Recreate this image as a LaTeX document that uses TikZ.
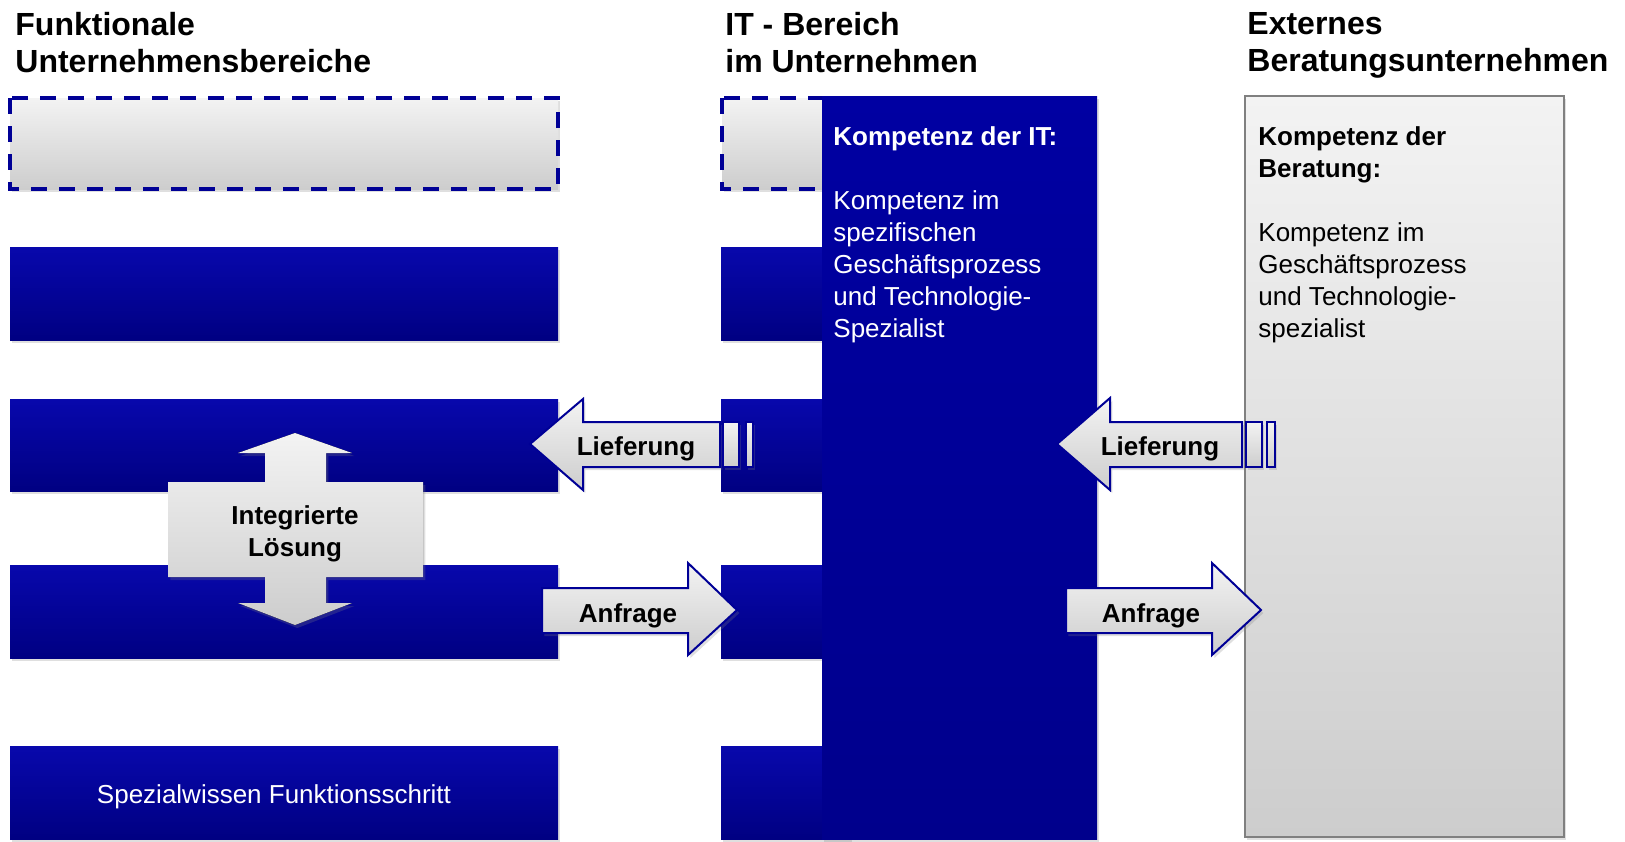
\documentclass[tikz,border=0pt]{standalone}
\usepackage{fontspec}
\setmainfont{Liberation Sans}
\usetikzlibrary{shadows}

\definecolor{bartop}{RGB}{8,8,172}
\definecolor{barbot}{RGB}{0,0,130}
\definecolor{ittop}{RGB}{0,0,162}
\definecolor{itbot}{RGB}{0,0,140}
\definecolor{edgeblue}{RGB}{0,0,150}
\definecolor{graytop}{RGB}{243,243,243}
\definecolor{graybot}{RGB}{205,205,205}
\definecolor{edgegray}{RGB}{128,128,128}

\tikzset{
  softshadow/.style={drop shadow={opacity=.25,shadow xshift=1.2pt,shadow yshift=-1.5pt}},
  bluebar/.style={top color=bartop,bottom color=barbot,softshadow},
  itbox/.style={top color=ittop,bottom color=itbot,softshadow},
  dashbox/.style={top color=graytop,bottom color=graybot,draw=edgeblue,line width=2pt,dash pattern=on 8pt off 6pt,softshadow},
  beratbox/.style={top color=graytop,bottom color=graybot,draw=edgegray,line width=1pt,softshadow},
  grayarrow/.style={top color=graytop,bottom color=graybot,draw=edgeblue,line width=1pt,softshadow},
  crossarrow/.style={top color=graytop,bottom color=graybot,softshadow},
  headtext/.style={font=\fontsize{16}{18.5}\selectfont\bfseries,align=left,anchor=north west,inner sep=0pt},
  bodytext/.style={font=\fontsize{13}{16}\selectfont,align=left,anchor=north west,inner sep=0pt},
  labeltext/.style={font=\fontsize{13}{16}\selectfont\bfseries,align=center,inner sep=0pt}
}

\begin{document}
\begin{tikzpicture}[x=0.5pt,y=-0.5pt]
\useasboundingbox (0,0) rectangle (1625,841);
%\draw[help lines,step=50] (0,0) grid (1625,841);
\node[headtext] (funktitel) at (15,12) {Funktionale\\Unternehmensbereiche};
\node[headtext] (ittitel) at (725,12) {IT - Bereich\\im Unternehmen};
\node[headtext] (exttitel) at (1247,12) {Externes\\Beratungsunternehmen};
% linke Spalte
\draw[dashbox] (10,98) rectangle (558,189);
\fill[bluebar] (10,247) rectangle (558,340);
\fill[bluebar] (10,399) rectangle (558,491);
\fill[bluebar] (10,565) rectangle (558,658);
\fill[bluebar] (10,746) rectangle (558,839);
\node[bodytext,anchor=center,white] (spezial) at (274,797) {Spezialwissen Funktionsschritt};
% IT-Bereich
\draw[dashbox] (722,98) rectangle (850,189);
\fill[bluebar] (721,247) rectangle (850,340);
\fill[bluebar] (721,399) rectangle (850,491);
\fill[bluebar] (721,565) rectangle (850,658);
\fill[bluebar] (721,746) rectangle (850,839);
\fill[itbox] (822,96) rectangle (1097,839);
\node[bodytext,white] (itkomp) at (833,126) {\textbf{Kompetenz der IT:}\\[16pt]Kompetenz im\\spezifischen\\Geschäftsprozess\\und Technologie-\\Spezialist};
% Beratung
\draw[beratbox] (1245,96) rectangle (1564,837);
\node[bodytext] (beratkomp) at (1258,126) {\textbf{Kompetenz der}\\\textbf{Beratung:}\\[16pt]Kompetenz im\\Geschäftsprozess\\und Technologie-\\spezialist};
% Pfeile
\draw[grayarrow] (530,444) -- (583,399) -- (583,422) -- (720,422) -- (720,467) -- (583,467) -- (583,490) -- cycle;
\draw[grayarrow] (723,422) rectangle (739,467);
\draw[grayarrow] (746,422) rectangle (753,467);
\node[labeltext] (liefer1) at (636,449) {Lieferung};
\draw[grayarrow] (1057,444) -- (1110,398) -- (1110,422) -- (1242,422) -- (1242,467) -- (1110,467) -- (1110,490) -- cycle;
\draw[grayarrow] (1246,422) rectangle (1262,467);
\draw[grayarrow] (1267,422) rectangle (1275,467);
\node[labeltext] (liefer2) at (1160,449) {Lieferung};
\draw[grayarrow] (542,588) -- (688,588) -- (688,563) -- (737,610) -- (688,655) -- (688,633) -- (542,633) -- cycle;
\node[labeltext] (anfrage1) at (628,616) {Anfrage};
\draw[grayarrow] (1066,588) -- (1212,588) -- (1212,563) -- (1261,610) -- (1212,655) -- (1212,633) -- (1066,633) -- cycle;
\node[labeltext] (anfrage2) at (1151,616) {Anfrage};
\fill[crossarrow] (295,433) -- (352,453) -- (326,453) -- (326,482) -- (423,482) -- (423,577) -- (326,577) -- (326,603) -- (352,603) -- (295,625) -- (238,603) -- (265,603) -- (265,577) -- (168,577) -- (168,482) -- (265,482) -- (265,453) -- (238,453) -- cycle;
\node[labeltext] (integ) at (295,534) {Integrierte\\Lösung};
\end{tikzpicture}
\end{document}
